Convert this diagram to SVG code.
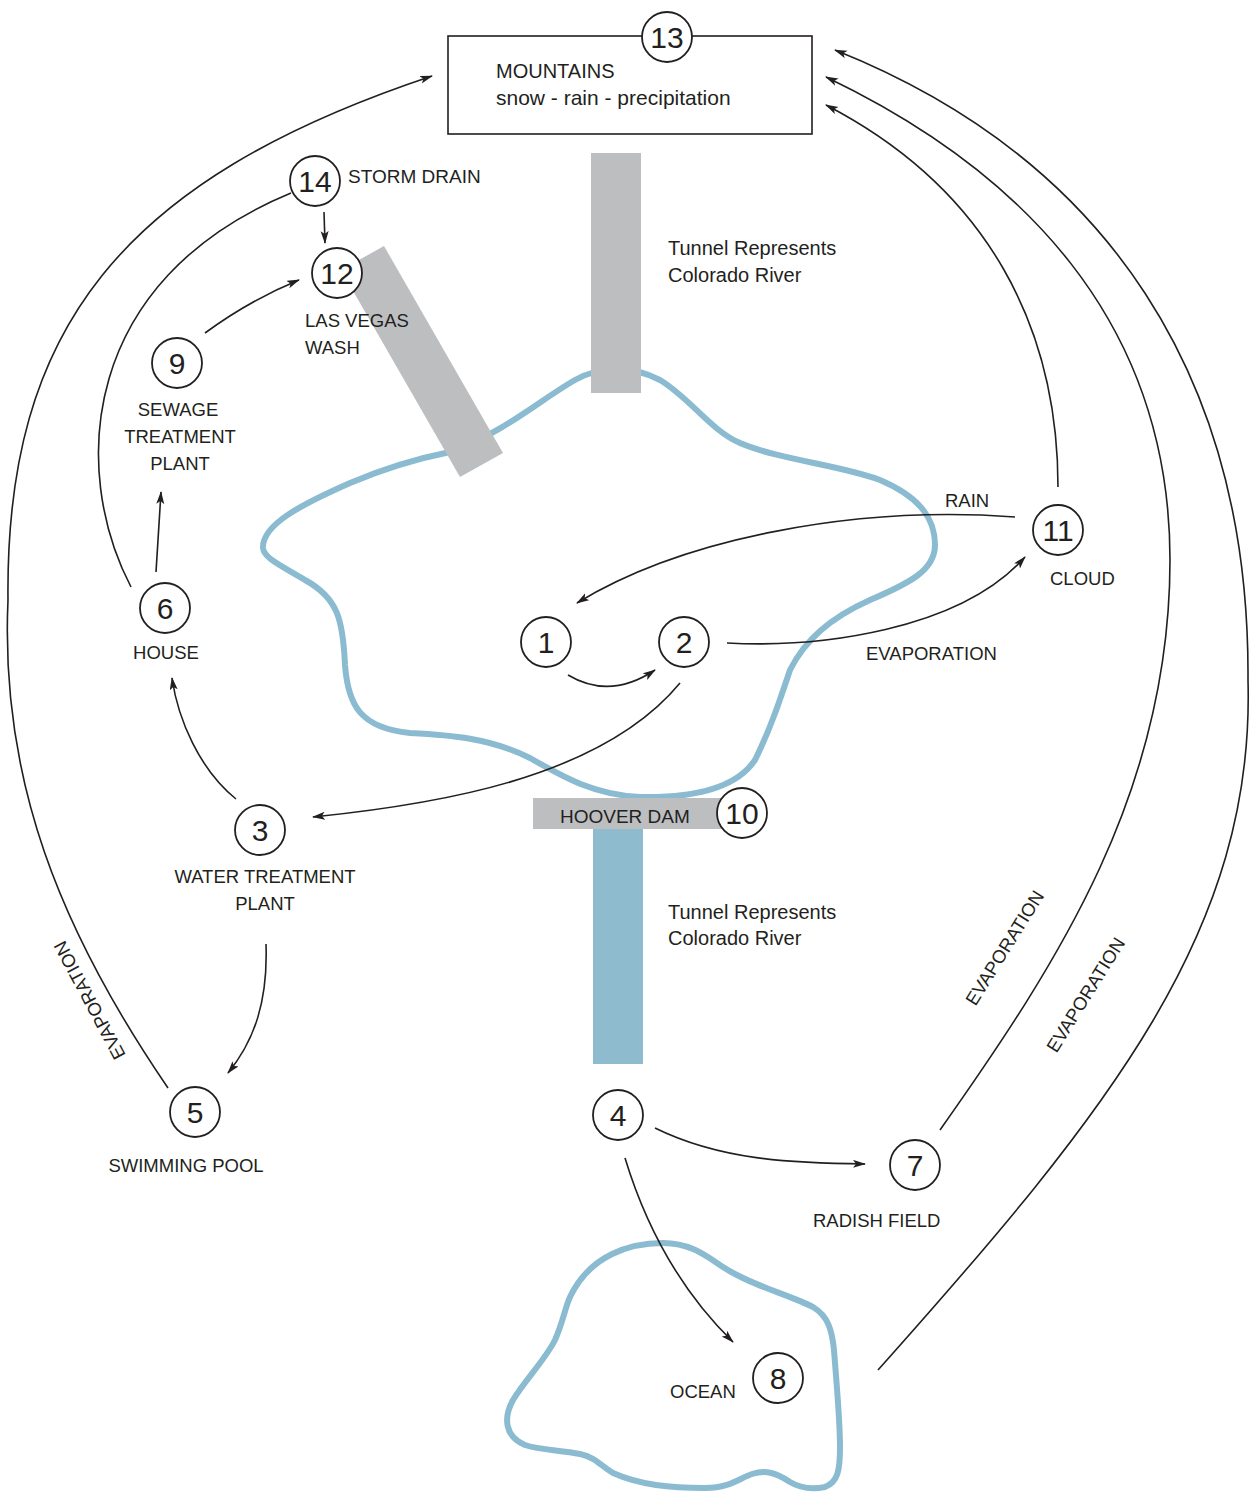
<svg xmlns="http://www.w3.org/2000/svg" width="1257" height="1493" viewBox="0 0 1257 1493">
<style>
.t{font-family:"Liberation Sans",Arial,sans-serif;font-size:19px;fill:#231f20}
.s{font-size:18.5px}
.l{font-size:20px}
.n{font-family:"Liberation Sans",Arial,sans-serif;font-size:30px;fill:#231f20;text-anchor:middle}
.c{fill:#fff;stroke:#231f20;stroke-width:1.8}
.e{fill:none;stroke:#231f20;stroke-width:1.6}
.a{marker-end:url(#ah)}
.lake{fill:none;stroke:#8bbbd0;stroke-width:6;stroke-linejoin:round}
.mid{text-anchor:middle}
</style>
<defs>
<marker id="ah" markerWidth="14" markerHeight="10" refX="12" refY="4" orient="auto" markerUnits="userSpaceOnUse">
<path d="M0,0 L13,4 L0,8 L3,4 Z" fill="#231f20"/>
</marker>
</defs>

<g id="lake">
<path class="lake" d="M263,548 C262,525 300,505 350,483 C390,466 420,458 450,452 C500,435 540,400 575,380 C600,366 630,365 660,380 C690,398 710,430 740,443 C780,460 840,465 880,480 C915,495 935,515 935,545 C935,570 910,583 870,600 C830,618 805,640 790,670 C780,700 770,730 755,760 C735,790 690,798 640,797 C595,795 565,778 530,758 C490,738 450,735 410,733 C360,728 348,705 345,665 C343,620 338,598 305,580 C280,565 264,558 263,548 Z"/>
</g>

<g id="ocean">
<path class="lake" d="M570,1297 C590,1255 630,1243 663,1243 C690,1243 705,1255 723,1267 C750,1285 790,1295 813,1307 C828,1316 832,1330 834,1350 C837,1390 840,1420 840,1447 C840,1470 838,1482 825,1487 C810,1490 800,1488 790,1482 C775,1472 765,1470 752,1474 C740,1478 730,1488 705,1488 C670,1488 640,1485 613,1473 C600,1465 595,1457 580,1454 C560,1450 540,1450 525,1445 C505,1437 503,1418 513,1400 C525,1380 545,1360 555,1340 C563,1322 565,1308 570,1297 Z"/>
</g>

<g id="tunnel-top">
<rect x="591" y="153" width="50" height="240" fill="#bcbec0"/>
<text class="t l" x="668" y="255">Tunnel Represents</text>
<text class="t l" x="668" y="282">Colorado River</text>
</g>

<g id="lv-wash-channel">
<polygon points="384,246 503,453 460,477 341,270" fill="#bcbec0"/>
</g>

<g id="tunnel-bottom">
<rect x="593" y="829" width="50" height="235" fill="#8fbbcf"/>
<text class="t l" x="668" y="919">Tunnel Represents</text>
<text class="t l" x="668" y="945">Colorado River</text>
</g>

<g id="connectors">
<path class="e a" d="M568,675 Q610,700 655,670"/>
<path class="e a" d="M727,643 C820,648 960,630 1025,557"/>
<path class="e a" d="M1015,517 C850,505 680,540 577,603"/>
<path class="e a" d="M680,683 C600,780 430,805 313,817"/>
<path class="e a" d="M236,799 C200,770 178,720 172,678"/>
<path class="e a" d="M156,572 L161,492"/>
<path class="e a" d="M205,333 Q250,300 299,280"/>
<path class="e a" d="M324,212 L325,243"/>
<path class="e" d="M131,587 C70,470 80,280 291,193"/>
<path class="e a" d="M168,1088 C60,930 0,780 8,600 C5,330 120,180 432,76"/>
<path class="e a" d="M1058,487 C1058,330 990,190 826,105"/>
<path class="e a" d="M940,1130 C1060,960 1170,790 1170,560 C1170,320 1020,170 826,77"/>
<path class="e a" d="M878,1370 C1110,1110 1255,930 1248,680 C1250,380 1110,160 835,50"/>
<path class="e a" d="M266,944 C268,1000 255,1040 228,1073"/>
<path class="e a" d="M655,1128 C720,1160 790,1163 865,1164"/>
<path class="e a" d="M625,1158 C650,1240 690,1300 733,1342"/>
</g>

<g id="mountains">
<rect x="448" y="36" width="364" height="98" fill="#fff" stroke="#231f20" stroke-width="1.6"/>
<text class="t" x="496" y="78" style="font-size:20px">MOUNTAINS</text>
<text class="t" x="496" y="105" style="font-size:21px">snow - rain - precipitation</text>
</g>
<g id="n13"><circle class="c" cx="667" cy="37" r="25"/><text class="n" x="667" y="48">13</text></g>

<g id="hoover-dam">
<rect x="533" y="798" width="200" height="31" fill="#bcbec0"/>
<text class="t" x="560" y="823">HOOVER DAM</text>
</g>
<g id="n10"><circle class="c" cx="742" cy="813" r="25"/><text class="n" x="742" y="824">10</text></g>

<g id="n14"><circle class="c" cx="315" cy="181" r="25"/><text class="n" x="315" y="192">14</text><text class="t" x="348" y="183">STORM DRAIN</text></g>
<g id="n12"><circle class="c" cx="337" cy="273" r="25"/><text class="n" x="337" y="284">12</text><text class="t s" x="305" y="327">LAS VEGAS</text><text class="t s" x="305" y="354">WASH</text></g>
<g id="n9"><circle class="c" cx="177" cy="363" r="25"/><text class="n" x="177" y="374">9</text><text class="t s mid" x="178" y="416">SEWAGE</text><text class="t s mid" x="180" y="443">TREATMENT</text><text class="t s mid" x="180" y="470">PLANT</text></g>
<g id="n6"><circle class="c" cx="165" cy="608" r="25"/><text class="n" x="165" y="619">6</text><text class="t s mid" x="166" y="659">HOUSE</text></g>
<g id="n3"><circle class="c" cx="260" cy="830" r="25"/><text class="n" x="260" y="841">3</text><text class="t s mid" x="265" y="883">WATER TREATMENT</text><text class="t s mid" x="265" y="910">PLANT</text></g>
<g id="n5"><circle class="c" cx="195" cy="1112" r="25"/><text class="n" x="195" y="1123">5</text><text class="t s mid" x="186" y="1172">SWIMMING POOL</text></g>
<g id="n1"><circle class="c" cx="546" cy="642" r="25"/><text class="n" x="546" y="653">1</text></g>
<g id="n2"><circle class="c" cx="684" cy="642" r="25"/><text class="n" x="684" y="653">2</text></g>
<g id="n11"><circle class="c" cx="1058" cy="530" r="25"/><text class="n" x="1058" y="541">11</text><text class="t s" x="1050" y="585">CLOUD</text></g>
<g id="n4"><circle class="c" cx="618" cy="1115" r="25"/><text class="n" x="618" y="1126">4</text></g>
<g id="n7"><circle class="c" cx="915" cy="1165" r="25"/><text class="n" x="915" y="1176">7</text><text class="t s" x="813" y="1227">RADISH FIELD</text></g>
<g id="n8"><circle class="c" cx="778" cy="1378" r="25"/><text class="n" x="778" y="1389">8</text><text class="t s" x="670" y="1398">OCEAN</text></g>

<g id="labels">
<text class="t s" x="945" y="507">RAIN</text>
<text class="t s" x="866" y="660">EVAPORATION</text>
<text class="t s mid" transform="translate(90,1000) rotate(-118)" y="6">EVAPORATION</text>
<text class="t s mid" transform="translate(1005,948) rotate(-58)" y="6">EVAPORATION</text>
<text class="t s mid" transform="translate(1086,995) rotate(-58)" y="6">EVAPORATION</text>
</g>
</svg>
